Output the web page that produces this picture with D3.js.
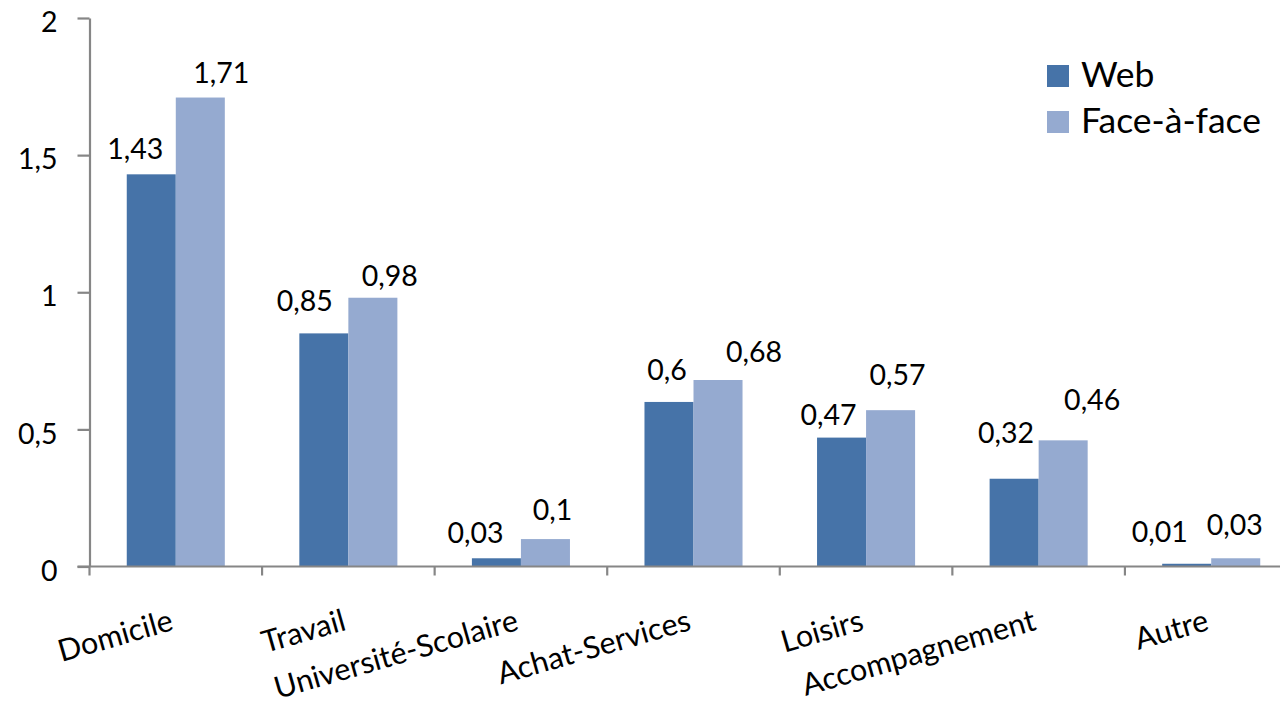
<!DOCTYPE html>
<html>
<head>
<meta charset="utf-8">
<script src="https://cdn.jsdelivr.net/npm/d3@7"></script>
<style>
  html, body { margin: 0; padding: 0; background: #ffffff; }
  svg { display: block; }
  text { font-family: Lato, "Open Sans", sans-serif; fill: #000; }
</style>
</head>
<body>
<svg id="chart" width="1280" height="704"></svg>
<script>
// Trip purposes and mean counts per survey mode
const categories = ["Domicile", "Travail", "Université-Scolaire", "Achat-Services", "Loisirs", "Accompagnement", "Autre"];
const seriesNames = ["Web", "Face-à-face"];
const webValues = [1.43, 0.85, 0.03, 0.6, 0.47, 0.32, 0.01];
const faceValues = [1.71, 0.98, 0.1, 0.68, 0.57, 0.46, 0.03];
const yTickValues = [0, 0.5, 1, 1.5, 2];

// Hand-placed offsets of the value labels relative to the top centre of each bar (px)
const webLabelDx = [-16, -19, -21, -2, -13, -8, -27];
const webLabelDy = [-15, -22, -15, -22, -13, -36, -22];
const faceLabelDx = [21, 17, 7, 36, 7, 29, -1];
const faceLabelDy = [-15, -12, -19, -18, -25, -30, -23];

const colors = { "Web": "#4673A8", "Face-à-face": "#95AAD0" };

const frLocale = d3.formatLocale({ decimal: ",", thousands: " ", grouping: [3], currency: ["", " €"] });
const fmt = frLocale.format("~g");

const svg = d3.select("#chart");

const plot = { left: 89.5, right: 1297.5, top: 18, bottom: 566.5 };

const x0 = d3.scaleBand()
  .domain(categories)
  .range([plot.left, plot.right])
  .padding(0);

const x1 = d3.scaleBand()
  .domain(seriesNames)
  .range([0, x0.bandwidth()])
  .paddingInner(0)
  .paddingOuter(0.76);

const y = d3.scaleLinear()
  .domain([0, 2])
  .range([plot.bottom, plot.top]);

const rows = categories.map((c, i) => ({
  category: c,
  values: [
    { series: "Web", value: webValues[i], dx: webLabelDx[i], dy: webLabelDy[i] },
    { series: "Face-à-face", value: faceValues[i], dx: faceLabelDx[i], dy: faceLabelDy[i] }
  ]
}));

// Bars
const groups = svg.append("g").selectAll("g")
  .data(rows)
  .join("g")
  .attr("transform", d => `translate(${x0(d.category)},0)`);

groups.selectAll("rect")
  .data(d => d.values)
  .join("rect")
  .attr("x", d => x1(d.series))
  .attr("width", x1.bandwidth())
  .attr("y", d => y(d.value))
  .attr("height", d => y(0) - y(d.value))
  .attr("fill", d => colors[d.series]);

// Value labels
groups.selectAll("text.value")
  .data(d => d.values)
  .join("text")
  .attr("class", "value")
  .attr("x", d => x1(d.series) + x1.bandwidth() / 2 + d.dx)
  .attr("y", d => y(d.value) + d.dy)
  .attr("text-anchor", "middle")
  .style("font-size", "28.5px")
  .text(d => fmt(d.value));

// Y axis
const yAxis = svg.append("g")
  .attr("transform", `translate(${plot.left},0)`)
  .call(d3.axisLeft(y).tickValues(yTickValues).tickSize(12).tickPadding(20).tickFormat(fmt).tickSizeOuter(0));
yAxis.select(".domain").attr("stroke", "#868686").attr("stroke-width", 2.2);
yAxis.selectAll(".tick line").attr("stroke", "#868686").attr("stroke-width", 2.2);
yAxis.selectAll(".tick text")
  .attr("dy", "0.48em")
  .style("font-size", "28.5px")
  .style("font-family", "Lato, sans-serif")
  .attr("fill", "#000");

// X axis
const xAxis = svg.append("g")
  .attr("transform", `translate(0,${plot.bottom})`);
xAxis.append("line")
  .attr("x1", plot.left - 12)
  .attr("x2", plot.right)
  .attr("stroke", "#868686")
  .attr("stroke-width", 2.2);
xAxis.selectAll("line.tick")
  .data(categories.concat([null]))
  .join("line")
  .attr("class", "tick")
  .attr("x1", (d, i) => plot.left + i * x0.step())
  .attr("x2", (d, i) => plot.left + i * x0.step())
  .attr("y1", 0)
  .attr("y2", 9)
  .attr("stroke", "#868686")
  .attr("stroke-width", 2.2);

xAxis.selectAll("text.cat")
  .data(categories)
  .join("text")
  .attr("class", "cat")
  .attr("text-anchor", "end")
  .attr("transform", d => `translate(${x0(d) + x0.bandwidth() / 2 - 1},${63}) rotate(-16)`)
  .style("font-size", "30.5px")
  .text(d => d);

// Legend
const legend = svg.append("g")
  .attr("transform", "translate(1047,65)");
const legendItems = legend.selectAll("g")
  .data(seriesNames)
  .join("g")
  .attr("transform", (d, i) => `translate(0,${i * 46})`);
legendItems.append("rect")
  .attr("width", 22)
  .attr("height", 22)
  .attr("fill", d => colors[d]);
legendItems.append("text")
  .attr("x", 34)
  .attr("y", 22)
  .style("font-size", "35.5px")
  .text(d => d);
</script>
</body>
</html>
